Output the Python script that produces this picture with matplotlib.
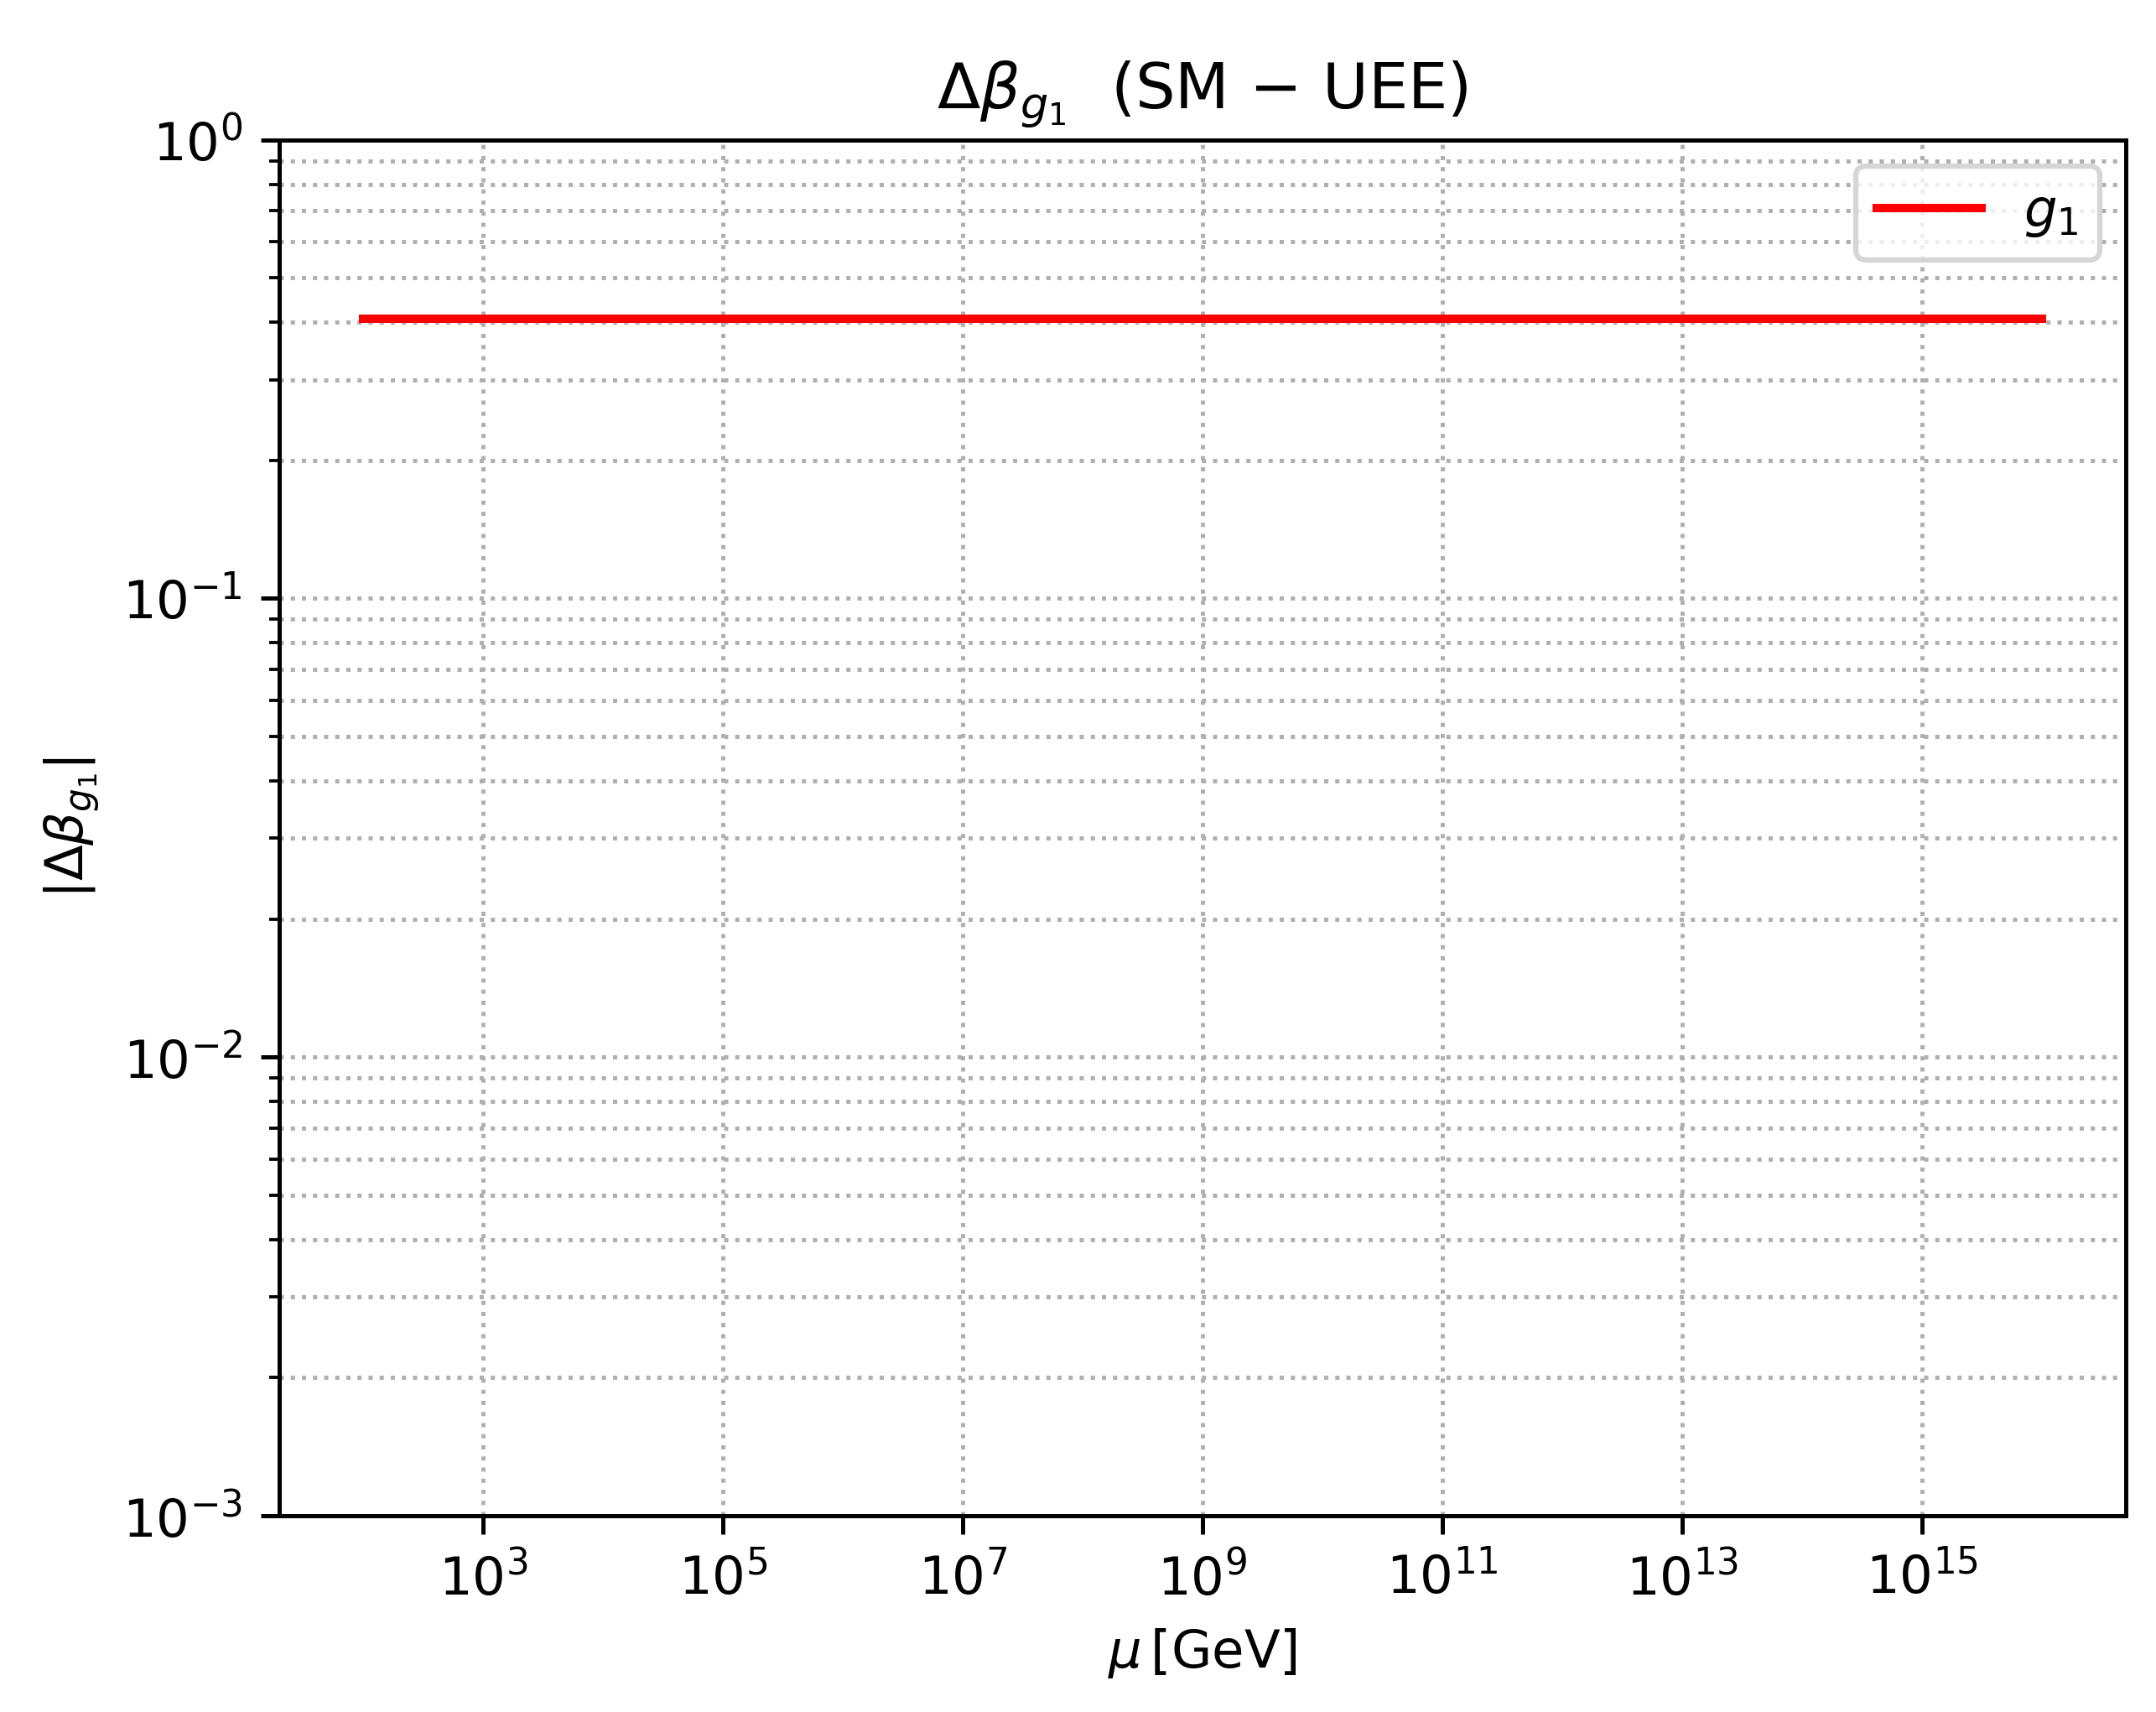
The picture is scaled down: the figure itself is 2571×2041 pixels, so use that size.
import numpy as np
import matplotlib
matplotlib.use("Agg")
import matplotlib.pyplot as plt

# Data
mu_gev = [1e2, 1e16]
delta_beta_g1 = [0.407, 0.407]
series_label = r'$g_1$'
x_ticks = [1e3, 1e5, 1e7, 1e9, 1e11, 1e13, 1e15]

DPI = 450
fig = plt.figure(figsize=(2571 / DPI, 2041 / DPI), dpi=DPI)
ax = fig.add_axes([332.7 / 2571, 1 - 1807 / 2041, (2535 - 332.7) / 2571, (1807 - 166.7) / 2041])
ax.plot(mu_gev, delta_beta_g1, color='red', lw=1.6, label=series_label)
ax.set_xscale('log')
ax.set_yscale('log')
ax.set_ylim(1e-3, 1)
ax.set_xticks(x_ticks)
ax.xaxis.set_minor_locator(matplotlib.ticker.NullLocator())
ax.grid(True, which='both', ls=':')
ax.set_xlabel(r'$\mu\,[\mathrm{GeV}]$')
ax.set_ylabel(r'$|\Delta\beta_{g_1}|$')
ax.set_title(r'$\Delta\beta_{g_1}$  (SM $-$ UEE)', fontsize=12)
ax.legend(loc='upper right')
fig.savefig('out.png', dpi=DPI)
